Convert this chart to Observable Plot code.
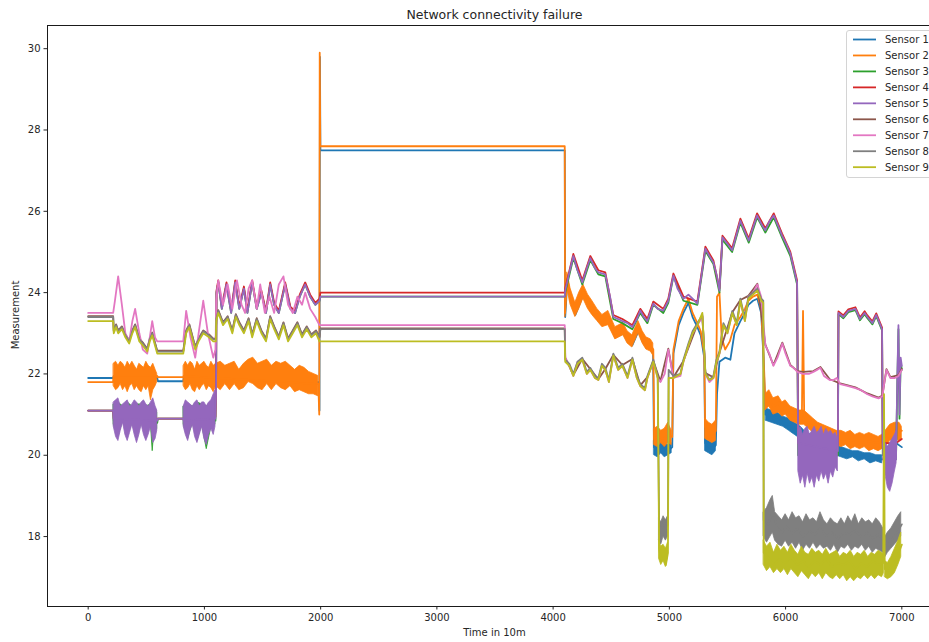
<!DOCTYPE html>
<html><head><meta charset="utf-8">
<script src="https://cdn.jsdelivr.net/npm/d3@7"></script>
<script src="https://cdn.jsdelivr.net/npm/@observablehq/plot@0.6"></script>
<style>
html,body{margin:0;padding:0;background:#fff;overflow:hidden;}
#wrap{position:relative;width:929px;height:642px;overflow:hidden;font-family:"DejaVu Sans",sans-serif;color:#262626;}
#chart{position:absolute;left:0;top:0;width:960px;height:642px;}
#chart svg{max-width:none !important;width:960px;height:642px;}
.lbl{position:absolute;white-space:nowrap;}
#title{left:47px;width:895px;top:7px;text-align:center;font-size:12.5px;}
#xlabel{left:47px;width:895px;top:627px;text-align:center;font-size:10px;}
#ylabel{left:15px;top:315px;font-size:10px;transform:translate(-50%,-50%) rotate(-90deg);}
#legend{position:absolute;left:846px;top:30px;width:120px;height:146px;border:1px solid #d4d4d4;border-radius:3px;background:rgba(255,255,255,0.85);}
</style></head><body>
<div id="wrap"><div id="chart"></div>
<div class="lbl" id="title">Network connectivity failure</div>
<div class="lbl" id="xlabel">Time in 10m</div>
<div class="lbl" id="ylabel">Measurement</div>
<div id="legend"></div>
</div>
<script>
const sensorNames = ["Sensor 1","Sensor 2","Sensor 3","Sensor 4","Sensor 5","Sensor 6","Sensor 7","Sensor 8","Sensor 9"];
const sensorColors = ["#1f77b4","#ff7f0e","#2ca02c","#d62728","#9467bd","#8c564b","#e377c2","#7f7f7f","#bcbd22"];
const xTicks = [0,1000,2000,3000,4000,5000,6000,7000];
const yTicks = [18,20,22,24,26,28,30];

// [time, measurement]
const sensor1 = [[0,21.9],[215,21.9],[220,21.95],[594,21.9],[600,21.82],[818,21.82],[822,21.9],[1985,21.8],[1990,21.1],[1994,29.8],[1998,27.5],[4100,27.5],[4104,23.4],[4122,24.25],[4150,23.8],[4191,23.45],[4225,23.7],[4260,23.95],[4300,23.7],[4336,23.5],[4380,23.35],[4424,23.2],[4475,23.3],[4535,22.9],[4604,23.0],[4640,22.8],[4681,22.7],[4734,23.05],[4770,22.8],[4802,22.65],[4840,22.6],[4860,22.5],[4868,20.2],[4900,20.15],[4950,20.2],[4990,20.1],[5025,20.2],[5035,22.5],[5080,23.2],[5121,23.5],[5164,23.75],[5200,23.4],[5241,23.15],[5270,22.95],[5300,22.4],[5308,20.3],[5340,20.2],[5370,20.15],[5400,20.25],[5410,21.5],[5431,22.3],[5480,22.4],[5525,22.35],[5560,23.0],[5611,23.3],[5650,23.5],[5680,23.7],[5720,23.8],[5757,23.85],[5790,23.5],[5810,22.4],[5826,21.0],[5860,21.05],[5895,20.9],[5940,20.95],[5972,20.8],[6041,20.75],[6102,20.6],[6188,20.4],[6239,20.35],[6300,20.2],[6411,20.1],[6500,20.05],[6600,20.0],[6704,19.95],[6816,19.9],[6840,19.9],[6870,20.2],[6950,20.3],[7000,20.2]];
const sensor2 = [[0,21.8],[215,21.8],[220,21.95],[594,21.95],[600,21.92],[818,21.92],[822,21.95],[1980,21.75],[1988,21.0],[1992,29.9],[1997,27.6],[4100,27.6],[4103,23.5],[4122,24.35],[4150,23.9],[4191,23.55],[4225,23.8],[4260,24.05],[4300,23.8],[4336,23.6],[4380,23.45],[4424,23.3],[4475,23.4],[4535,23.0],[4604,23.1],[4640,22.9],[4681,22.8],[4734,23.15],[4770,22.9],[4802,22.75],[4840,22.7],[4862,22.6],[4870,20.4],[4900,20.45],[4950,20.4],[4990,20.5],[5025,20.45],[5035,22.6],[5080,23.3],[5121,23.6],[5164,23.85],[5200,23.5],[5241,23.25],[5270,23.05],[5300,22.5],[5308,20.7],[5340,20.55],[5370,20.5],[5400,20.6],[5410,23.9],[5431,24.0],[5450,22.9],[5480,22.6],[5520,22.8],[5560,23.2],[5611,23.4],[5650,23.6],[5680,23.8],[5720,23.9],[5757,23.95],[5790,23.6],[5810,22.5],[5826,21.3],[5860,21.4],[5895,21.2],[5940,21.3],[5972,21.1],[6000,21.2],[6041,21.0],[6080,20.95],[6102,20.9],[6140,20.9],[6150,23.55],[6160,21.0],[6188,20.8],[6239,20.7],[6300,20.55],[6350,20.5],[6411,20.45],[6455,20.4],[6500,20.4],[6600,20.35],[6700,20.35],[6816,20.3],[6860,20.4],[6902,20.55],[6971,20.65],[7000,20.6]];
const sensor3 = [[0,21.1],[215,21.1],[220,20.85],[594,20.8],[600,20.9],[818,20.9],[1095,20.85],[1100,21.5],[1104,24.0],[1119,24.25],[1150,23.6],[1190,24.2],[1230,23.5],[1265,24.25],[1300,23.6],[1340,24.1],[1370,23.5],[1411,24.25],[1450,23.6],[1490,24.0],[1530,23.5],[1566,24.2],[1600,23.7],[1640,23.5],[1695,24.2],[1740,23.6],[1780,23.5],[1820,23.9],[1867,24.2],[1910,23.9],[1954,23.7],[1990,23.8],[1998,23.9],[4100,23.9],[4104,24.0],[4174,24.85],[4251,24.2],[4320,24.8],[4389,24.45],[4449,24.4],[4518,23.35],[4596,23.25],[4682,23.1],[4750,23.5],[4811,23.25],[4862,23.7],[4948,23.5],[4991,23.75],[5035,24.4],[5121,23.8],[5241,23.7],[5310,25.03],[5379,24.7],[5431,24.0],[5457,25.3],[5540,25.0],[5611,25.72],[5683,25.23],[5755,25.85],[5826,25.48],[5898,25.85],[5970,25.35],[6041,24.9],[6099,24.2],[6108,20.0],[6450,20.0],[6455,23.47],[6497,23.37],[6540,23.52],[6601,23.57],[6640,23.32],[6680,23.47],[6704,23.37],[6747,23.22],[6780,23.42],[6816,23.17],[6830,23.07],[6836,20.0],[6950,19.9],[6962,21.9],[6971,23.1],[6980,20.9],[6990,22.3],[7000,22.1]];
const sensor4 = [[0,21.1],[215,21.1],[220,20.9],[594,20.9],[600,20.9],[818,20.9],[1095,20.95],[1100,21.6],[1104,24.05],[1119,24.3],[1150,23.65],[1190,24.25],[1230,23.55],[1265,24.3],[1300,23.65],[1340,24.15],[1370,23.55],[1411,24.3],[1450,23.65],[1490,24.05],[1530,23.55],[1566,24.25],[1600,23.75],[1640,23.55],[1695,24.25],[1740,23.65],[1780,23.55],[1820,23.95],[1867,24.25],[1910,23.95],[1954,23.75],[1990,23.85],[1998,24.0],[4100,24.0],[4104,24.1],[4174,24.95],[4251,24.3],[4320,24.9],[4389,24.55],[4449,24.5],[4518,23.45],[4596,23.35],[4682,23.2],[4750,23.6],[4811,23.35],[4862,23.78],[4948,23.6],[4991,23.85],[5035,24.47],[5121,23.9],[5241,23.78],[5310,25.13],[5379,24.79],[5431,24.1],[5457,25.4],[5540,25.09],[5611,25.82],[5683,25.33],[5755,25.95],[5826,25.58],[5898,25.95],[5970,25.45],[6041,25.0],[6099,24.3],[6108,20.3],[6200,20.25],[6300,20.2],[6400,20.2],[6450,20.25],[6455,23.54],[6497,23.44],[6540,23.59],[6601,23.64],[6640,23.39],[6680,23.54],[6704,23.44],[6747,23.29],[6780,23.49],[6816,23.24],[6830,23.14],[6836,20.3],[6950,20.3],[7000,20.4]];
const sensor5 = [[0,21.1],[215,21.1],[220,20.9],[594,20.85],[600,20.9],[818,20.9],[822,20.85],[1095,20.9],[1100,21.5],[1104,24.0],[1119,24.25],[1150,23.6],[1190,24.2],[1230,23.5],[1265,24.25],[1300,23.6],[1340,24.1],[1370,23.5],[1411,24.25],[1450,23.6],[1490,24.0],[1530,23.5],[1566,24.2],[1600,23.7],[1640,23.5],[1695,24.2],[1740,23.6],[1780,23.5],[1820,23.9],[1867,24.2],[1910,23.9],[1954,23.7],[1990,23.8],[1998,23.9],[4100,23.9],[4104,24.05],[4140,24.5],[4174,24.9],[4210,24.55],[4251,24.25],[4290,24.6],[4320,24.85],[4360,24.6],[4389,24.5],[4449,24.45],[4490,23.9],[4518,23.4],[4560,23.35],[4596,23.3],[4640,23.25],[4682,23.15],[4720,23.35],[4750,23.56],[4780,23.4],[4811,23.3],[4840,23.55],[4862,23.73],[4900,23.6],[4948,23.56],[4991,23.8],[5035,24.42],[5070,24.1],[5121,23.85],[5164,23.95],[5200,23.85],[5241,23.73],[5270,24.3],[5310,25.08],[5345,24.9],[5379,24.74],[5410,24.4],[5431,24.05],[5457,25.36],[5500,25.2],[5540,25.04],[5575,25.4],[5611,25.77],[5650,25.5],[5683,25.28],[5720,25.6],[5755,25.9],[5790,25.7],[5826,25.53],[5860,25.75],[5898,25.9],[5935,25.65],[5970,25.4],[6005,25.2],[6041,24.96],[6070,24.6],[6099,24.25],[6108,20.3],[6450,20.1],[6455,23.5],[6497,23.4],[6540,23.55],[6601,23.6],[6640,23.35],[6680,23.5],[6704,23.4],[6747,23.25],[6780,23.45],[6816,23.2],[6830,23.1],[6836,20.2],[6950,19.9],[6962,22.0],[6971,23.2],[6980,21.0],[6990,22.4],[7000,22.2]];
const sensor6 = [[0,23.42],[215,23.42],[220,23.07],[240,23.22],[258,23.07],[290,23.17],[320,22.97],[353,22.82],[380,23.07],[404,23.22],[440,22.87],[470,22.77],[508,22.62],[530,22.87],[551,23.02],[575,22.77],[594,22.57],[818,22.57],[843,23.07],[870,23.22],[921,22.67],[950,22.87],[990,23.07],[1040,22.97],[1076,22.87],[1098,22.87],[1102,23.37],[1119,23.57],[1160,23.27],[1200,23.42],[1240,23.07],[1270,23.47],[1300,23.27],[1340,23.07],[1380,23.37],[1411,22.97],[1450,23.37],[1490,23.07],[1530,22.87],[1566,23.42],[1600,23.17],[1640,22.92],[1680,23.27],[1720,22.87],[1760,23.07],[1800,23.27],[1840,22.97],[1880,23.17],[1920,22.97],[1960,23.07],[1990,22.92],[1998,23.12],[4100,23.12],[4104,22.4],[4174,21.97],[4251,22.37],[4320,22.12],[4389,21.87],[4449,22.12],[4518,22.47],[4596,22.22],[4682,22.37],[4750,21.72],[4811,21.92],[4862,22.32],[4923,21.82],[4991,22.62],[5035,21.92],[5121,22.32],[5241,23.22],[5284,23.42],[5310,22.02],[5379,21.92],[5431,22.52],[5542,23.52],[5611,23.82],[5680,23.92],[5757,24.22],[5826,22.72],[5895,22.22],[5972,22.77],[6041,22.22],[6102,22.07],[6150,22.05],[6239,22.07],[6300,22.17],[6380,21.87],[6470,21.77],[6601,21.67],[6704,21.52],[6800,21.42],[6833,21.47],[6868,22.12],[6902,21.92],[6971,21.97],[7000,22.12]];
const sensor7 = [[0,23.5],[215,23.5],[230,23.8],[258,24.4],[290,23.7],[320,23.0],[353,22.8],[380,23.3],[404,23.6],[440,23.0],[470,22.6],[508,22.5],[530,22.9],[551,23.3],[575,22.9],[594,22.8],[818,22.8],[843,23.55],[880,22.9],[921,22.4],[950,23.0],[990,23.8],[1030,23.0],[1076,22.4],[1095,22.6],[1102,23.8],[1119,24.3],[1160,23.7],[1200,24.2],[1240,23.6],[1280,24.3],[1320,23.7],[1350,23.5],[1380,24.1],[1411,24.3],[1450,23.6],[1480,24.2],[1520,23.5],[1560,23.9],[1600,23.5],[1640,24.2],[1680,24.4],[1720,23.7],[1760,23.5],[1800,23.9],[1840,23.7],[1867,24.0],[1910,23.6],[1954,23.4],[1990,23.2],[2000,23.2],[4100,23.2],[4105,22.4],[4140,22.2],[4174,21.95],[4210,22.3],[4251,22.35],[4290,22.0],[4320,22.1],[4360,21.9],[4389,21.85],[4420,22.2],[4449,22.1],[4480,21.8],[4518,22.45],[4560,22.1],[4596,22.2],[4640,21.9],[4682,22.35],[4720,21.9],[4750,21.7],[4790,21.6],[4811,21.9],[4862,22.3],[4900,21.9],[4923,21.8],[4960,22.0],[4991,22.6],[5035,21.9],[5095,21.95],[5121,22.3],[5164,22.7],[5200,23.0],[5241,23.2],[5284,23.4],[5310,22.0],[5345,21.8],[5379,21.9],[5405,22.3],[5431,22.5],[5465,23.2],[5500,23.0],[5542,23.5],[5580,23.2],[5611,23.8],[5650,23.3],[5680,23.9],[5720,24.0],[5757,24.2],[5790,23.9],[5826,22.7],[5860,22.5],[5895,22.2],[5930,22.4],[5972,22.75],[6000,22.5],[6041,22.2],[6070,22.15],[6102,22.05],[6150,22.0],[6200,22.0],[6239,22.05],[6270,22.1],[6300,22.15],[6330,21.95],[6380,21.85],[6411,21.85],[6440,21.9],[6470,21.75],[6540,21.7],[6601,21.65],[6650,21.6],[6704,21.5],[6747,21.45],[6800,21.4],[6833,21.45],[6850,21.8],[6868,22.1],[6902,21.9],[6940,21.9],[6971,21.95],[7000,22.1]];
const sensor8 = [[0,23.4],[215,23.4],[220,23.05],[240,23.2],[258,23.05],[290,23.15],[320,22.95],[353,22.8],[380,23.05],[404,23.2],[440,22.85],[470,22.75],[508,22.6],[530,22.85],[551,23.0],[575,22.75],[594,22.55],[818,22.55],[843,23.05],[870,23.2],[921,22.65],[950,22.85],[990,23.05],[1040,22.95],[1076,22.85],[1098,22.85],[1102,23.35],[1119,23.55],[1160,23.25],[1200,23.4],[1240,23.05],[1270,23.45],[1300,23.25],[1340,23.05],[1380,23.35],[1411,22.95],[1450,23.35],[1490,23.05],[1530,22.85],[1566,23.4],[1600,23.15],[1640,22.9],[1680,23.25],[1720,22.85],[1760,23.05],[1800,23.25],[1840,22.95],[1880,23.15],[1920,22.95],[1960,23.05],[1990,22.9],[1998,23.1],[4100,23.1],[4104,22.35],[4140,22.25],[4174,22.0],[4210,22.3],[4251,22.4],[4290,22.05],[4320,22.15],[4360,21.95],[4389,21.9],[4420,22.25],[4449,22.15],[4480,21.85],[4518,22.5],[4560,22.15],[4596,22.25],[4640,21.95],[4682,22.4],[4720,21.95],[4750,21.75],[4790,21.65],[4811,21.95],[4862,22.35],[4900,21.95],[4912,18.3],[4930,18.1],[4950,18.4],[4970,18.2],[4988,18.3],[4994,22.1],[5035,21.95],[5095,22.0],[5121,22.35],[5164,22.75],[5200,23.05],[5241,23.25],[5284,23.45],[5310,22.05],[5345,21.85],[5379,21.95],[5405,22.35],[5431,22.55],[5465,23.25],[5500,23.05],[5542,23.55],[5580,23.25],[5611,23.85],[5650,23.35],[5680,23.9],[5720,24.0],[5757,24.1],[5790,23.85],[5808,23.8],[5812,18.4],[5850,18.3],[5890,18.6],[5930,18.2],[5970,18.1],[6010,18.25],[6050,18.05],[6100,18.2],[6150,18.0],[6200,18.15],[6250,18.05],[6300,18.2],[6350,18.0],[6400,18.1],[6450,17.95],[6500,18.1],[6550,18.05],[6600,18.15],[6650,18.0],[6700,18.1],[6750,17.95],[6800,18.05],[6845,17.9],[6855,17.7],[6880,17.9],[6920,17.95],[6960,18.1],[7000,18.3]];
const sensor9 = [[0,23.3],[215,23.3],[220,23.0],[240,23.15],[258,23.0],[290,23.1],[320,22.9],[353,22.75],[380,23.0],[404,23.15],[440,22.8],[470,22.7],[508,22.55],[530,22.8],[551,22.95],[575,22.7],[594,22.5],[818,22.5],[843,23.0],[870,23.15],[921,22.6],[950,22.8],[990,23.0],[1040,22.9],[1076,22.8],[1098,22.8],[1102,23.3],[1119,23.5],[1160,23.2],[1200,23.35],[1240,23.0],[1270,23.4],[1300,23.2],[1340,23.0],[1380,23.3],[1411,22.9],[1450,23.3],[1490,23.0],[1530,22.8],[1566,23.35],[1600,23.1],[1640,22.85],[1680,23.2],[1720,22.8],[1760,23.0],[1800,23.2],[1840,22.9],[1880,23.1],[1920,22.9],[1960,23.0],[1990,22.8],[4100,22.8],[4104,22.3],[4140,22.2],[4174,21.95],[4210,22.25],[4251,22.35],[4290,22.0],[4320,22.1],[4360,21.9],[4389,21.85],[4420,22.2],[4449,22.1],[4480,21.8],[4518,22.45],[4560,22.1],[4596,22.2],[4640,21.9],[4682,22.35],[4720,21.9],[4750,21.7],[4790,21.6],[4811,21.9],[4862,22.3],[4900,21.9],[4912,17.7],[4930,17.4],[4950,17.5],[4970,17.3],[4988,17.6],[4994,21.9],[5035,21.9],[5095,22.0],[5121,22.3],[5164,22.7],[5200,23.0],[5241,23.2],[5284,23.5],[5310,22.0],[5345,21.85],[5379,21.9],[5405,22.3],[5431,22.5],[5465,23.2],[5500,23.0],[5542,23.5],[5580,23.2],[5611,23.8],[5650,23.3],[5680,23.85],[5720,23.95],[5757,24.05],[5790,23.8],[5808,23.75],[5812,17.6],[5850,17.5],[5900,17.3],[5950,17.45],[6000,17.35],[6050,17.5],[6100,17.3],[6150,17.4],[6200,17.25],[6250,17.4],[6300,17.3],[6350,17.45],[6400,17.25],[6450,17.35],[6500,17.3],[6550,17.4],[6600,17.2],[6650,17.35],[6700,17.25],[6750,17.4],[6800,17.3],[6840,17.35],[6847,21.5],[6853,17.2],[6880,17.15],[6920,17.3],[6960,17.5],[7000,17.8]];

// noise envelopes: segments of [time, low, high]
const band1 = [
 [[4870,20.0,20.35],[4900,19.95,20.3],[4930,20.05,20.35],[4960,19.95,20.3],[4990,20.0,20.25],[5020,20.05,20.3]],
 [[5310,20.1,20.4],[5340,20.05,20.35],[5370,20.0,20.3],[5400,20.1,20.35]],
 [[5830,20.85,21.15],[5880,20.8,21.1],[5930,20.75,21.05],[5980,20.7,20.95],[6030,20.6,20.9],[6080,20.5,20.8],[6130,20.4,20.7],[6180,20.3,20.55],[6230,20.25,20.5],[6280,20.15,20.4],[6330,20.1,20.35],[6380,20.05,20.3],[6430,20.0,20.25],[6480,19.95,20.2],[6530,19.9,20.15],[6580,19.95,20.1],[6630,19.85,20.1],[6680,19.9,20.05],[6730,19.8,20.05],[6780,19.85,20.0],[6830,19.8,20.0]]
];
const band2 = [
 [[220,21.7,22.25],[240,21.6,22.3],[260,21.65,22.2],[280,21.75,22.3],[300,21.6,22.25],[320,21.7,22.15],[340,21.55,22.3],[360,21.7,22.2],[380,21.75,22.3],[400,21.6,22.2],[420,21.7,22.1],[440,21.6,22.25],[460,21.55,22.2],[480,21.7,22.15],[500,21.6,22.3],[520,21.7,22.2],[540,21.35,22.15],[560,21.6,22.25],[580,21.7,22.1],[594,21.8,22.0]],
 [[822,21.7,22.2],[840,21.6,22.3],[860,21.65,22.2],[880,21.75,22.3],[900,21.6,22.25],[920,21.55,22.1],[940,21.7,22.3],[960,21.6,22.2],[980,21.7,22.25],[1000,21.75,22.3],[1020,21.6,22.2],[1040,21.7,22.15],[1060,21.65,22.3],[1080,21.55,22.2],[1100,21.7,22.25],[1140,21.6,22.3],[1180,21.75,22.2],[1220,21.6,22.25],[1260,21.75,22.3],[1300,21.6,22.1],[1340,21.65,22.25],[1380,21.8,22.35],[1420,21.75,22.4],[1460,21.65,22.25],[1500,21.6,22.3],[1540,21.75,22.35],[1580,21.6,22.2],[1620,21.75,22.3],[1660,21.65,22.25],[1700,21.6,22.3],[1740,21.7,22.2],[1780,21.55,22.1],[1820,21.6,22.2],[1860,21.55,22.15],[1900,21.5,22.05],[1940,21.5,22.0],[1980,21.45,21.95]],
 [[4105,23.4,24.0],[4122,24.1,24.5],[4150,23.7,24.1],[4191,23.4,23.75],[4225,23.6,24.0],[4260,23.85,24.2],[4300,23.6,23.95],[4336,23.45,23.8],[4380,23.3,23.6],[4424,23.15,23.45],[4475,23.2,23.55],[4535,22.85,23.15],[4604,22.95,23.25],[4640,22.75,23.05],[4681,22.65,22.95],[4734,23.0,23.3],[4770,22.75,23.05],[4802,22.6,22.9],[4840,22.55,22.85],[4862,22.45,22.75]],
 [[4870,20.25,20.65],[4900,20.2,20.7],[4930,20.3,20.6],[4960,20.2,20.65],[4990,20.3,20.8],[5020,20.25,20.6]],
 [[5310,20.4,20.9],[5340,20.35,20.8],[5370,20.3,20.75],[5400,20.35,20.85]],
 [[5826,21.1,21.5],[5860,21.2,21.6],[5895,21.0,21.4],[5940,21.05,21.45],[5972,20.95,21.3],[6000,21.0,21.35],[6041,20.85,21.2],[6080,20.8,21.15],[6120,20.75,21.1],[6160,20.75,21.1],[6200,20.65,21.0],[6239,20.55,20.9],[6280,20.45,20.8],[6320,20.4,20.75],[6360,20.35,20.7],[6400,20.3,20.65],[6440,20.25,20.6],[6480,20.2,20.6],[6520,20.25,20.55],[6560,20.15,20.6],[6600,20.2,20.5],[6640,20.15,20.55],[6680,20.2,20.5],[6720,20.1,20.55],[6760,20.15,20.5],[6800,20.1,20.45],[6830,20.15,20.5],[6860,20.2,20.6],[6900,20.35,20.75],[6940,20.4,20.8],[6980,20.35,20.8],[7000,20.4,20.7]]
];
const band3 = [
 [[220,20.75,21.25],[260,20.45,21.3],[300,20.85,21.2],[340,20.45,21.3],[380,20.8,21.2],[420,20.4,21.25],[460,20.8,21.25],[500,20.45,21.2],[540,20.75,21.25],[555,20.1,21.2],[565,20.45,21.25],[594,20.65,21.05]],
 [[822,20.75,21.2],[860,20.4,21.25],[900,20.8,21.2],[940,20.35,21.3],[980,20.75,21.25],[1020,20.15,21.2],[1060,20.7,21.3],[1095,20.75,21.5]]
];
const band4 = [];
const band5 = [
 [[220,20.7,21.3],[240,20.45,21.35],[260,20.35,21.4],[280,20.6,21.2],[300,20.8,21.25],[320,20.5,21.3],[340,20.35,21.35],[360,20.55,21.2],[380,20.75,21.25],[400,20.5,21.35],[420,20.3,21.3],[440,20.5,21.2],[460,20.75,21.3],[480,20.5,21.35],[500,20.35,21.25],[520,20.5,21.2],[540,20.7,21.3],[560,20.3,21.4],[580,20.4,21.2],[594,20.6,21.1]],
 [[822,20.7,21.2],[840,20.5,21.35],[860,20.35,21.3],[880,20.6,21.25],[900,20.75,21.2],[920,20.45,21.3],[940,20.3,21.35],[960,20.5,21.2],[980,20.7,21.3],[1000,20.4,21.3],[1020,20.25,21.2],[1040,20.5,21.3],[1060,20.65,21.35],[1080,20.5,21.5],[1095,20.7,21.6]],
 [[6110,19.6,20.6],[6130,19.3,20.7],[6150,19.5,20.5],[6170,19.2,20.65],[6190,19.55,20.7],[6210,19.3,20.5],[6230,19.45,20.6],[6250,19.2,20.7],[6270,19.5,20.55],[6290,19.35,20.6],[6310,19.6,20.7],[6330,19.4,20.5],[6350,19.55,20.65],[6370,19.3,20.55],[6390,19.6,20.6],[6410,19.45,20.5],[6430,19.7,20.55],[6450,19.6,20.4]],
 [[6840,19.9,20.4],[6860,19.5,20.3],[6880,19.2,20.2],[6900,19.1,20.3],[6920,19.3,20.4],[6940,19.6,20.5],[6955,19.8,20.6]]
];
const band6 = [];
const band7 = [];
const band8 = [
 [[4912,17.9,18.45],[4930,17.8,18.35],[4950,18.0,18.5],[4970,17.9,18.4],[4988,18.0,18.5]],
 [[5812,18.0,18.6],[5840,17.85,18.7],[5870,18.0,18.9],[5890,18.1,19.0],[5910,17.9,18.6],[5940,17.8,18.5],[5970,17.75,18.4],[6000,17.9,18.55],[6030,17.75,18.4],[6060,17.85,18.6],[6090,17.7,18.45],[6120,17.85,18.5],[6150,17.65,18.35],[6180,17.8,18.55],[6210,17.7,18.4],[6240,17.85,18.45],[6270,17.7,18.35],[6300,17.8,18.6],[6330,17.7,18.4],[6360,17.75,18.3],[6390,17.65,18.45],[6420,17.8,18.35],[6450,17.6,18.3],[6480,17.75,18.45],[6510,17.7,18.3],[6540,17.8,18.5],[6570,17.65,18.35],[6600,17.75,18.55],[6630,17.7,18.3],[6660,17.8,18.45],[6690,17.65,18.35],[6720,17.75,18.4],[6750,17.6,18.3],[6780,17.7,18.45],[6810,17.65,18.35],[6840,17.6,18.2],[6860,17.5,18.0],[6880,17.6,18.1],[6910,17.7,18.2],[6940,17.8,18.35],[6970,17.9,18.5],[6995,18.0,18.6]]
];
const band9 = [
 [[4912,17.45,17.9],[4930,17.3,17.75],[4950,17.4,17.8],[4970,17.25,17.7],[4988,17.5,17.85]],
 [[5812,17.3,17.9],[5840,17.15,17.75],[5870,17.25,17.85],[5900,17.1,17.6],[5930,17.2,17.8],[5960,17.1,17.65],[5990,17.2,17.75],[6020,17.05,17.6],[6050,17.2,17.8],[6080,17.1,17.65],[6110,17.0,17.55],[6140,17.15,17.75],[6170,17.05,17.6],[6200,16.95,17.55],[6230,17.1,17.7],[6260,17.0,17.6],[6290,17.1,17.65],[6320,16.95,17.55],[6350,17.1,17.7],[6380,17.0,17.55],[6410,16.95,17.6],[6440,17.05,17.65],[6470,16.95,17.5],[6500,17.05,17.6],[6530,16.9,17.55],[6560,17.0,17.65],[6590,16.9,17.5],[6620,17.0,17.6],[6650,16.95,17.55],[6680,17.05,17.65],[6710,16.95,17.5],[6740,17.05,17.6],[6770,16.95,17.55],[6800,17.05,17.65],[6830,17.0,17.6],[6845,17.1,17.55]],
 [[6855,17.0,17.4],[6880,16.95,17.35],[6910,17.0,17.5],[6940,17.1,17.7],[6970,17.3,17.9],[6995,17.5,18.1]]
];

const series = [sensor1,sensor2,sensor3,sensor4,sensor5,sensor6,sensor7,sensor8,sensor9];
const bands = [band1,band2,band3,band4,band5,band6,band7,band8,band9];

const marks = [];
series.forEach((s, i) => {
  const rows = bands[i].flatMap((seg, k) => seg.map(([t, lo, hi]) => ({t, lo, hi, seg: k})));
  if (rows.length) {
    marks.push(Plot.areaY(rows, {x: "t", y1: "lo", y2: "hi", z: "seg", fill: sensorColors[i], stroke: sensorColors[i], strokeWidth: 0.8}));
  }
  marks.push(Plot.line(s, {x: d => d[0], y: d => d[1], stroke: sensorColors[i], strokeWidth: 1.8}));
});
marks.push(Plot.axisX({ticks: xTicks, tickSize: 3.5, tickPadding: 3.5, tickFormat: d => String(d), label: null, fontSize: 10}));
marks.push(Plot.axisY({ticks: yTicks, tickSize: 3.5, tickPadding: 3.5, tickFormat: d => String(d), label: null, fontSize: 10}));
marks.push(Plot.frame({stroke: "#1a1a1a", strokeWidth: 1}));

const chart = Plot.plot({
  width: 960, height: 642,
  marginLeft: 47, marginRight: 18, marginTop: 25, marginBottom: 36,
  style: {fontFamily: "DejaVu Sans, sans-serif", fontSize: "10px", color: "#262626", background: "transparent", maxWidth: "none"},
  x: {domain: [-350, 7350]},
  y: {domain: [16.28, 30.57]},
  marks
});
document.getElementById("chart").appendChild(chart);

// legend
const ns = "http://www.w3.org/2000/svg";
const lg = document.createElementNS(ns, "svg");
lg.setAttribute("width", 120); lg.setAttribute("height", 146);
lg.style.fontFamily = "DejaVu Sans, sans-serif";
sensorNames.forEach((name, i) => {
  const y = 8.5 + i * 15.96;
  const ln = document.createElementNS(ns, "line");
  ln.setAttribute("x1", 6); ln.setAttribute("x2", 29); ln.setAttribute("y1", y); ln.setAttribute("y2", y);
  ln.setAttribute("stroke", sensorColors[i]); ln.setAttribute("stroke-width", 1.8);
  lg.appendChild(ln);
  const tx = document.createElementNS(ns, "text");
  tx.setAttribute("x", 38); tx.setAttribute("y", y + 3.6);
  tx.setAttribute("font-size", 10); tx.setAttribute("fill", "#262626");
  tx.textContent = name;
  lg.appendChild(tx);
});
document.getElementById("legend").appendChild(lg);
</script>
</body></html>
